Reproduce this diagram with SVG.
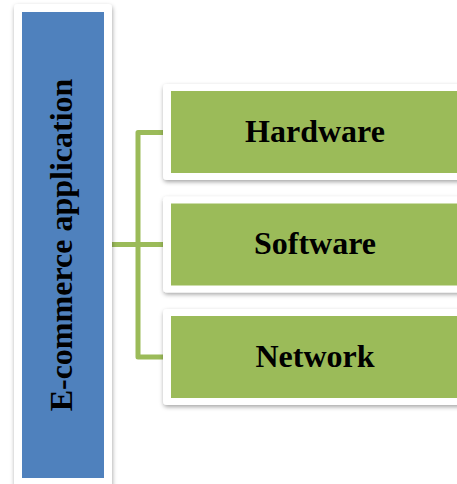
<svg xmlns="http://www.w3.org/2000/svg" width="457" height="484" viewBox="0 0 457 484">
  <defs>
    <filter id="sh" x="-20%" y="-20%" width="140%" height="140%">
      <feDropShadow dx="0.5" dy="2" stdDeviation="2" flood-color="#000" flood-opacity="0.35"/>
    </filter>
    <style>
      .frame { fill: #ffffff; filter: url(#sh); }
      .blue { fill: #4F81BD; }
      .green { fill: #9BBB59; }
      .conn { fill: none; stroke: #9BBB59; stroke-width: 5; stroke-linejoin: round; }
      .lbl { font-family: "Liberation Serif", "Times New Roman", serif; font-weight: bold; font-size: 32px; fill: #000; text-anchor: middle; }
    </style>
  </defs>
  <rect width="457" height="484" fill="#ffffff"/>
  <g id="connectors">
    <path class="conn" d="M112 244.5 H138"/>
    <path class="conn" d="M163 132.5 H138 V357 H163"/>
    <path class="conn" d="M138 244.5 H163"/>
  </g>
  <g id="app">
    <rect class="frame" x="14" y="4" width="98" height="484" rx="4"/>
    <rect class="blue" x="22" y="12" width="82" height="466"/>
    <text class="lbl" transform="translate(72,245) rotate(-90)">E-commerce application</text>
  </g>
  <g id="hardware">
    <rect class="frame" x="163" y="84" width="304" height="96" rx="4"/>
    <rect class="green" x="171" y="91" width="290" height="82"/>
    <text class="lbl" x="315" y="142">Hardware</text>
  </g>
  <g id="software">
    <rect class="frame" x="163" y="196.5" width="304" height="96" rx="4"/>
    <rect class="green" x="171" y="203.5" width="290" height="82"/>
    <text class="lbl" x="315" y="254">Software</text>
  </g>
  <g id="network">
    <rect class="frame" x="163" y="309" width="304" height="96" rx="4"/>
    <rect class="green" x="171" y="316" width="290" height="82"/>
    <text class="lbl" x="315" y="367">Network</text>
  </g>
</svg>
